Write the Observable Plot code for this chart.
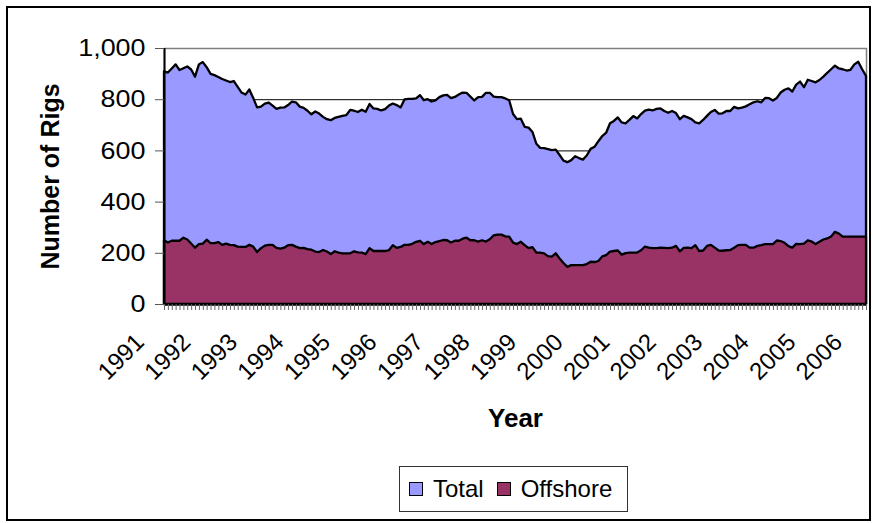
<!DOCTYPE html>
<html>
<head>
<meta charset="utf-8">
<script src="https://cdn.jsdelivr.net/npm/d3@7"></script>
<script src="https://cdn.jsdelivr.net/npm/@observablehq/plot@0.6"></script>
<style>
  body { margin: 0; background: #fff; }
  #wrap { position: relative; width: 873px; height: 523px; overflow: hidden; background: #fff;
          font-family: Arial, "Liberation Sans", sans-serif; }
  #wrap svg { display: block; }
  #frame { position: absolute; left: 6px; top: 6px; width: 865px; height: 515px; box-sizing: border-box;
           border: 2px solid #000; pointer-events: none; }
  #legend { position: absolute; left: 399px; top: 466px; width: 229px; height: 46px; box-sizing: border-box;
            border: 1px solid #333; display: flex; align-items: center; padding-left: 9px;
            font-size: 24px; color: #000; }
  .sw { width: 14px; height: 14px; box-sizing: border-box; border: 1.5px solid #000; display: inline-block; }
  .lab { margin-left: 10px; margin-right: 13px; line-height: 1; }
</style>
</head>
<body>
<div id="wrap">
  <div id="chart"></div>
  <div id="legend"></div>
  <div id="frame"></div>
</div>
<script>
// Monthly rig counts starting January 1991
const startYear = 1991;
const total = [
  909, 904, 920, 936, 914, 921, 928, 916, 888, 936, 945, 925,
  899, 894, 887, 879, 873, 867, 871, 848, 826, 818, 838, 805,
  768, 771, 783, 787, 775, 762, 767, 768, 777, 791, 788, 771,
  766, 755, 741, 752, 744, 731, 722, 718, 727, 731, 735, 738,
  758, 755, 750, 759, 751, 781, 764, 762, 756, 761, 775, 783,
  777, 768, 799, 801, 801, 803, 816, 796, 800, 791, 795, 808,
  815, 817, 804, 809, 818, 826, 825, 810, 795, 808, 809, 825,
  825, 810, 808, 808, 803, 796, 742, 722, 724, 692, 689, 672,
  626, 610, 609, 605, 601, 603, 582, 560, 554, 562, 577, 570,
  564, 580, 606, 614, 636, 656, 669, 706, 715, 729, 709, 706,
  719, 734, 725, 742, 755, 759, 756, 762, 764, 754, 747, 754,
  746, 722, 735, 729, 722, 709, 706, 719, 735, 750, 758, 744,
  745, 754, 754, 770, 764, 767, 772, 780, 788, 792, 788, 805,
  804, 795, 805, 826, 837, 842, 830, 857, 869, 847, 876, 871,
  866, 875, 888, 903, 917, 931, 920, 917, 912, 915, 936, 946,
  917, 891
];
const offshore = [
  249, 240, 247, 247, 247, 259, 252, 236, 220, 234, 236, 251,
  238, 238, 242, 231, 236, 231, 230, 224, 223, 223, 231, 224,
  203, 218, 228, 231, 231, 219, 216, 220, 230, 231, 224, 218,
  219, 214, 212, 205, 203, 211, 205, 195, 206, 201, 198, 198,
  198, 206, 202, 201, 195, 218, 207, 207, 207, 207, 210, 230,
  219, 223, 231, 231, 235, 243, 247, 234, 243, 234, 242, 246,
  250, 249, 240, 247, 247, 255, 259, 249, 249, 244, 249, 244,
  253, 268, 271, 271, 264, 263, 240, 234, 243, 230, 218, 222,
  201, 201, 198, 187, 185, 198, 178, 160, 145, 152, 152, 152,
  152, 156, 165, 164, 168, 186, 191, 205, 207, 209, 193, 199,
  201, 201, 201, 210, 224, 220, 218, 218, 220, 219, 218, 220,
  227, 206, 219, 220, 218, 230, 207, 209, 227, 231, 220, 209,
  208, 210, 211, 220, 230, 231, 231, 220, 220, 227, 230, 234,
  234, 234, 248, 246, 239, 226, 220, 235, 234, 236, 249, 244,
  234, 243, 252, 256, 264, 282, 275, 263, 263, 263, 263, 263,
  263, 263
];
const yearLabels = ["1991","1992","1993","1994","1995","1996","1997","1998",
                    "1999","2000","2001","2002","2003","2004","2005","2006"];
const yTicks = [0, 200, 400, 600, 800, 1000];
const gridValues = [200, 400, 600, 800];
const seriesNames = ["Total", "Offshore"];
const seriesColors = ["#9999FF", "#993366"];
const yTitle = "Number of Rigs";
const xTitle = "Year";

const data = total.map((v, i) => ({t: startYear + i / 12, total: v, offshore: offshore[i]}));
const x0 = data[0].t, x1 = data[data.length - 1].t;
const monthTicks = data.map(d => d.t);

const chart = Plot.plot({
  width: 873,
  height: 460,
  marginLeft: 164,
  marginRight: 7,
  marginTop: 48,
  marginBottom: 156,
  style: {fontFamily: "Arial, 'Liberation Sans', sans-serif", fontSize: "24px", color: "#000", background: "#fff", overflow: "visible"},
  x: {domain: [x0, x1], axis: null, label: null},
  y: {domain: [0, 1000], axis: null, label: null},
  marks: [
    Plot.frame({stroke: "#808080", strokeWidth: 1.5}),
    Plot.ruleY(gridValues, {stroke: "#000", strokeWidth: 1}),
    Plot.areaY(data, {x: "t", y: "total", fill: seriesColors[0], stroke: "#000", strokeWidth: 2.3, strokeLinejoin: "round"}),
    Plot.areaY(data, {x: "t", y: "offshore", fill: seriesColors[1], stroke: "#000", strokeWidth: 2.3, strokeLinejoin: "round"}),
    Plot.ruleX([x0], {stroke: "#000", strokeWidth: 2}),
    Plot.ruleY([0], {stroke: "#000", strokeWidth: 2}),
    Plot.axisY({ticks: yTicks, tickSize: 9, tickPadding: 10, tickFormat: d3.format(","), stroke: "#555", fill: "#000", label: null, fontSize: 24}),
    Plot.axisX({ticks: monthTicks, tickSize: 6, tickFormat: () => "", stroke: "#666", label: null}),
    Plot.text(yearLabels, {x: d => +d, frameAnchor: "bottom", rotate: -45, textAnchor: "end", dx: -19, dy: 39, fontSize: 24, fill: "#000"}),
    Plot.text([xTitle], {frameAnchor: "bottom", textAnchor: "middle", lineAnchor: "middle", dy: 114, fontWeight: "bold", fontSize: 26, fill: "#000"}),
    Plot.text([yTitle], {frameAnchor: "left", textAnchor: "middle", lineAnchor: "middle", dx: -114, rotate: -90, fontWeight: "bold", fontSize: 25, fill: "#000"})
  ]
});
document.getElementById("chart").appendChild(chart);

// Excel renders these tick labels slightly wider than Arial's natural metrics
chart.querySelectorAll('g[aria-label="y-axis tick label"] text').forEach(t => {
  const w = t.getComputedTextLength();
  if (w > 0) {
    t.setAttribute("textLength", (w * 1.12).toFixed(1));
    t.setAttribute("lengthAdjust", "spacingAndGlyphs");
  }
});

const legend = document.getElementById("legend");
seriesNames.forEach((name, i) => {
  const sw = document.createElement("span");
  sw.className = "sw";
  sw.style.background = seriesColors[i];
  const lab = document.createElement("span");
  lab.className = "lab";
  lab.textContent = name;
  legend.appendChild(sw);
  legend.appendChild(lab);
});
</script>
</body>
</html>
